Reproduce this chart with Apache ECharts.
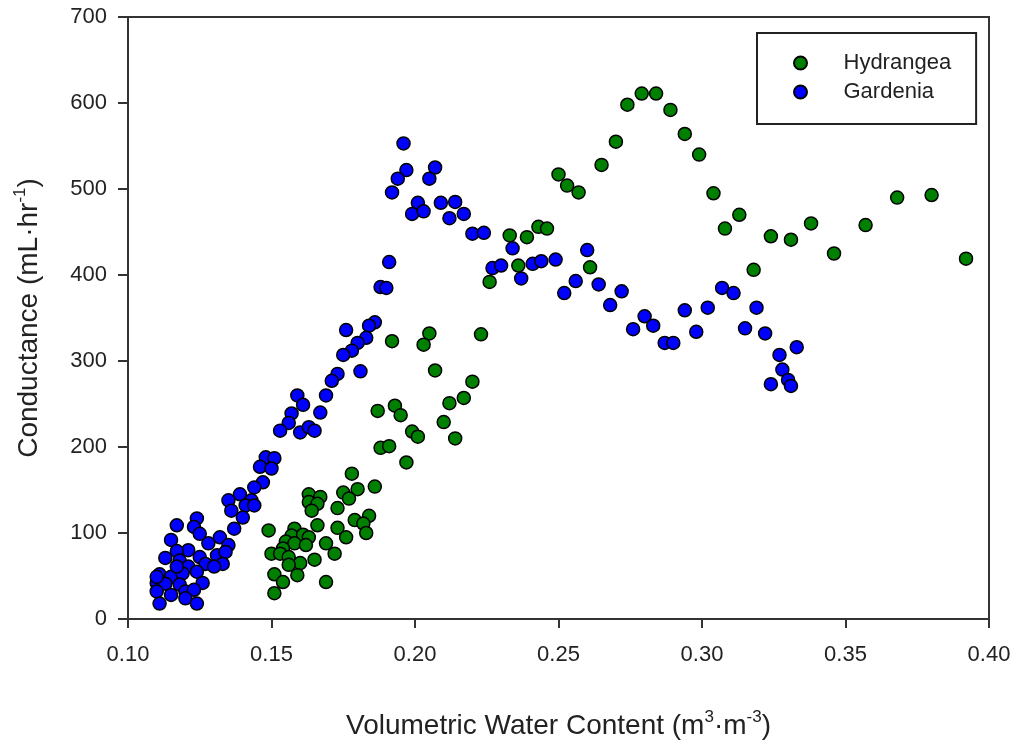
<!DOCTYPE html>
<html>
<head>
<meta charset="utf-8">
<script src="https://cdn.jsdelivr.net/npm/echarts@6/dist/echarts.min.js"></script>
<style>
    html, body { margin: 0; padding: 0; background: #fff; }
    #chartId { width: 1018px; height: 745px; }
</style>
</head>
<body>
<div id="chartId"></div>
<script>
// Hydrangea: volumetric water content (m3/m3) and conductance (mL/hr)
const hydrangeaX = [
    0.178, 0.186, 0.180, 0.175, 0.163, 0.167, 0.163, 0.166, 0.177, 0.173,
    0.164, 0.184, 0.179, 0.182, 0.183, 0.166, 0.149, 0.173, 0.176, 0.158,
    0.157, 0.161, 0.163, 0.155, 0.169, 0.158, 0.162, 0.154, 0.172, 0.150,
    0.153, 0.156, 0.160, 0.165, 0.156, 0.151, 0.159, 0.154, 0.169, 0.151,
    0.187, 0.193, 0.195, 0.199, 0.201, 0.188, 0.191, 0.197, 0.210, 0.212,
    0.217, 0.214, 0.220, 0.223, 0.192, 0.205, 0.203, 0.207, 0.226, 0.236,
    0.233, 0.239, 0.243, 0.246, 0.261, 0.274, 0.279, 0.284, 0.289, 0.270,
    0.265, 0.250, 0.253, 0.257, 0.294, 0.299, 0.304, 0.313, 0.308, 0.324,
    0.331, 0.338, 0.357, 0.346, 0.368, 0.380, 0.392, 0.318
];
const hydrangeaY = [
    169, 154, 151, 147, 145, 142, 136, 134, 140, 129,
    126, 120, 115, 111, 100, 109, 103, 106, 95, 105,
    97, 98, 95, 90, 88, 88, 86, 82, 76, 76,
    76, 72, 65, 69, 63, 52, 51, 43, 43, 30,
    242, 248, 237, 218, 212, 199, 201, 182, 229, 251,
    257, 210, 276, 331, 323, 332, 319, 289, 392, 411,
    446, 444, 456, 454, 409, 598, 611, 611, 592, 555,
    528, 517, 504, 496, 564, 540, 495, 470, 454, 445,
    441, 460, 458, 425, 490, 493, 419, 406
];

// Gardenia
const gardeniaX = [
    0.196, 0.197, 0.194, 0.207, 0.205, 0.192, 0.201, 0.199, 0.203, 0.209,
    0.214, 0.217, 0.212, 0.220, 0.224, 0.234, 0.227, 0.230, 0.237, 0.241,
    0.244, 0.249, 0.191, 0.188, 0.190, 0.186, 0.184, 0.176, 0.183, 0.180,
    0.178, 0.175, 0.181, 0.173, 0.171, 0.169, 0.159, 0.161,
    0.260, 0.256, 0.252, 0.264, 0.272, 0.268, 0.280, 0.276, 0.283, 0.294,
    0.302, 0.298, 0.287, 0.290, 0.307, 0.311, 0.319, 0.315, 0.322, 0.333,
    0.327, 0.328, 0.330, 0.324, 0.331,
    0.157, 0.167, 0.156, 0.153, 0.160, 0.163, 0.165, 0.148, 0.151, 0.146,
    0.150, 0.147, 0.144, 0.139, 0.135, 0.143, 0.141, 0.136, 0.140, 0.144,
    0.137,
    0.117, 0.124, 0.123, 0.125, 0.115, 0.132, 0.121, 0.117, 0.128, 0.135,
    0.113, 0.118, 0.125, 0.131, 0.134, 0.127, 0.121, 0.133, 0.130, 0.111,
    0.115, 0.119, 0.124, 0.110, 0.113, 0.118, 0.126, 0.120, 0.123, 0.110,
    0.115, 0.111, 0.120, 0.124, 0.110, 0.117
];
const gardeniaY = [
    553, 522, 512, 525, 512, 496, 484, 471, 474, 484,
    485, 471, 466, 448, 449, 431, 408, 411, 396, 413,
    416, 418, 415, 386, 385, 345, 341, 336, 327, 321,
    312, 307, 288, 285, 277, 260, 260, 249,
    429, 393, 379, 389, 381, 365, 352, 337, 341, 359,
    362, 334, 321, 321, 385, 379, 362, 338, 332, 316,
    307, 290, 278, 273, 271,
    239, 240, 228, 219, 217, 223, 219, 188, 187, 177,
    175, 159, 153, 145, 138, 138, 132, 126, 118, 132,
    105,
    109, 117, 107, 99, 92, 95, 80, 79, 88, 86,
    71, 68, 72, 74, 78, 64, 61, 64, 61, 52,
    49, 53, 55, 42, 41, 40, 42, 32, 34, 32,
    28, 18, 24, 18, 49, 61
];

const seriesNames = ["Hydrangea", "Gardenia"];
const xTicks = { min: 0.10, max: 0.40, step: 0.05 };
const yTicks = { min: 0, max: 700, step: 100 };

const fontName = "'Liberation Sans', Arial, sans-serif";

function pairs(xs, ys){
    let out = [];
    for(let i = 0; i < xs.length; i++){
        out.push([xs[i], ys[i]]);
    }
    return out;
}

var chart = echarts.init(document.getElementById('chartId'));

var titleRich = {
    a: { fontSize: 28, fontFamily: fontName, color: '#222', lineHeight: 34 },
    s: { fontSize: 17, fontFamily: fontName, color: '#222', verticalAlign: 'top', lineHeight: 34, padding: [0, 0, 14, 0] }
};

var option = {
    animation: false,
    backgroundColor: '#fff',
    textStyle: { fontFamily: fontName },
    grid: {
        left: 128,
        right: 29,
        top: 17,
        bottom: 122,
        show: true,
        borderColor: '#333',
        borderWidth: 2
    },
    legend: {
        data: seriesNames,
        orient: 'vertical',
        left: 757,
        top: 33,
        padding: [19, 25, 21, 36],
        itemWidth: 50,
        itemHeight: 13,
        itemGap: 7,
        align: 'left',
        borderColor: '#222',
        borderWidth: 2,
        textStyle: {
            fontSize: 22,
            fontFamily: fontName,
            color: '#222',
            lineHeight: 22,
            padding: [0, 0, 0, 13]
        }
    },
    xAxis: {
        type: 'value',
        min: xTicks.min,
        max: xTicks.max,
        interval: xTicks.step,
        name: '{a|Volumetric Water Content (m}{s|3}{a|·m}{s|-3}{a|)}',
        nameLocation: 'middle',
        nameGap: 90,
        nameTextStyle: { rich: titleRich },
        axisLine: { lineStyle: { color: '#333', width: 2 } },
        axisTick: { inside: false, length: 9, lineStyle: { color: '#333', width: 2 } },
        axisLabel: {
            fontSize: 22,
            color: '#222',
            margin: 25,
            formatter: function(v){ return v.toFixed(2); }
        },
        splitLine: { show: false }
    },
    yAxis: {
        type: 'value',
        min: yTicks.min,
        max: yTicks.max,
        interval: yTicks.step,
        name: '{a|Conductance (mL·hr}{s|-1}{a|)}',
        nameLocation: 'middle',
        nameGap: 82,
        nameTextStyle: { rich: titleRich },
        axisLine: { lineStyle: { color: '#333', width: 2 } },
        axisTick: { inside: false, length: 10, lineStyle: { color: '#333', width: 2 } },
        axisLabel: { fontSize: 22, color: '#222', margin: 21 },
        splitLine: { show: false }
    },
    series: [
        {
            name: seriesNames[0],
            type: 'scatter',
            symbol: 'circle',
            symbolSize: 13,
            data: pairs(hydrangeaX, hydrangeaY),
            itemStyle: { color: '#008000', borderColor: '#000', borderWidth: 1.5, opacity: 1 }
        },
        {
            name: seriesNames[1],
            type: 'scatter',
            symbol: 'circle',
            symbolSize: 13,
            data: pairs(gardeniaX, gardeniaY),
            itemStyle: { color: '#0000ff', borderColor: '#000', borderWidth: 1.5, opacity: 1 }
        }
    ]
};

chart.setOption(option);
</script>
</body>
</html>
